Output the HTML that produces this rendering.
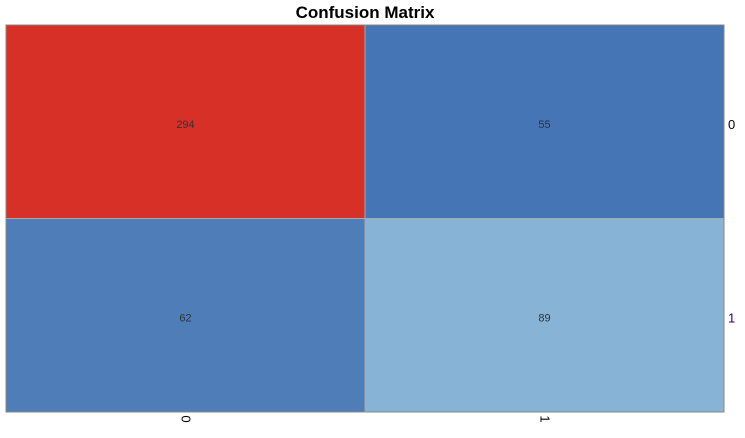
<!DOCTYPE html>
<html><head><meta charset="utf-8"><style>
body{margin:0;background:#fff;width:745px;height:433px;overflow:hidden}
svg{font-family:"Liberation Sans",Arial,sans-serif}
</style></head><body>
<svg id="chart" width="745" height="433">
<text x="365" y="18" text-anchor="middle" font-size="17" font-weight="bold" fill="#000">Confusion Matrix</text>
<g id="cells"></g>
<rect x="6" y="25" width="718" height="387" fill="none" stroke="#888" stroke-width="1"/>
</svg>
<script>
const xLabels = ["0","1"];
const yLabels = ["0","1"];
const values = [[294,55],[62,89]];
const colors = [["#d73027","#4575b4"],["#4f7db8","#86b3d6"]];
const L=6,T=25,W=718,H=387;
const cw=W/xLabels.length, ch=H/yLabels.length;
const ns="http://www.w3.org/2000/svg";
const g=document.getElementById('cells');
const svg=document.getElementById('chart');
function xs(i){return L+i*cw;}
function ys(j){return T+j*ch;}
for(let j=0;j<yLabels.length;j++){
  for(let i=0;i<xLabels.length;i++){
    const r=document.createElementNS(ns,'rect');
    r.setAttribute('x',xs(i));r.setAttribute('y',ys(j));
    r.setAttribute('width',cw);r.setAttribute('height',ch);
    r.setAttribute('fill',colors[j][i]);r.setAttribute('stroke','#aaa');r.setAttribute('stroke-width','1');
    
    
    g.appendChild(r);
    const t=document.createElementNS(ns,'text');
    t.setAttribute('x',xs(i)+cw/2);t.setAttribute('y',ys(j)+ch/2+6);
    t.setAttribute('text-anchor','middle');t.setAttribute('font-size','11');t.setAttribute('fill','#333');
    t.textContent=values[j][i];
    
    
    g.appendChild(t);
  }
}
for(let i=0;i<xLabels.length;i++){
  const t=document.createElementNS(ns,'text');
  const cx=xs(i)+cw/2-4, cy=419;
  t.setAttribute('x',cx);t.setAttribute('y',cy);
  t.setAttribute('transform','rotate(90 '+cx+' '+cy+')');
  t.setAttribute('text-anchor','middle');t.setAttribute('font-size','13');t.setAttribute('fill','#000');
  t.textContent=xLabels[i];
  
  
  svg.appendChild(t);
}
for(let j=0;j<yLabels.length;j++){
  const t=document.createElementNS(ns,'text');
  t.setAttribute('x',728);t.setAttribute('y',ys(j)+ch/2+7);
  t.setAttribute('font-size','13');t.setAttribute('fill',j==1?'#330066':'#000');
  t.textContent=yLabels[j];
  
  
  svg.appendChild(t);
}
</script>
</body></html>
